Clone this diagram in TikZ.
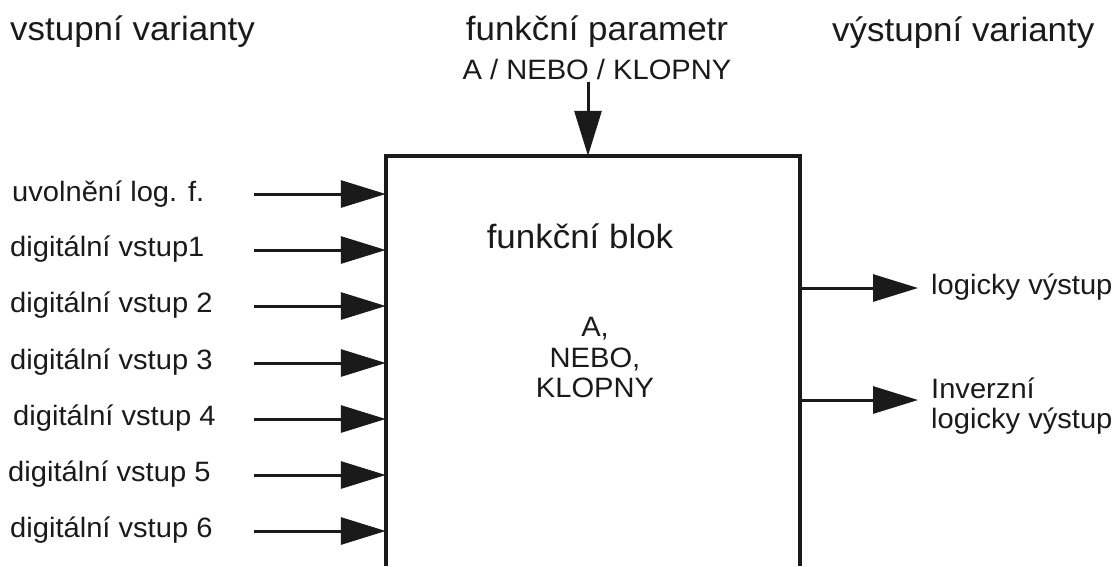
\documentclass[tikz,border=0pt]{standalone}
\usepackage{fontspec}
\setmainfont{Liberation Sans}[FakeStretch=1.04]
\usetikzlibrary{arrows.meta}
\definecolor{ink}{HTML}{1A1A1A}
\begin{document}
\begin{tikzpicture}[x=1pt,y=-1pt,
  lbl/.style={font=\fontsize{28}{30.5}\selectfont, text=ink, inner sep=0pt},
  hdr/.style={font=\fontsize{33.6}{38}\selectfont, text=ink, inner sep=0pt},
  conn/.style={draw=ink, line width=3pt, -{Triangle[length=45pt,width=27pt]}},
  box/.style={draw=ink, line width=3.5pt}]
\useasboundingbox (0,0) rectangle (1113,566);
\clip (0,0) rectangle (1113,566);

% headers
\node[hdr, anchor=base west] (hin) at (10,40) {vstupní varianty};
\node[hdr, anchor=base] (hpar) at (597,40) {funkční parametr};
\node[lbl, anchor=base] (par) at (597,79) {A / NEBO / KLOPNY};
\node[hdr, anchor=base west] (hout) at (832,41) {výstupní varianty};

% block
\node[minimum width=414pt, minimum height=410pt, inner sep=0pt] (blok) at (593,361) {};
\draw[box] (blok.south west) -- (blok.north west) -- (blok.north east) -- (blok.south east);
\node[hdr, anchor=base] (title) at (580,248) {funkční blok};
\node[lbl, align=center] (modes) at (595,357.5) {A,\\NEBO,\\KLOPNY};

% parameter arrow
\coordinate (ptop) at (588,82);
\draw[conn] (ptop) -- (ptop |- blok.north);

% inputs
\node[lbl, anchor=base west] (l1) at (12,201) {uvolnění log. f.};
\node[lbl, anchor=base west] (l2) at (10,256) {digitální vstup1};
\node[lbl, anchor=base west] (l3) at (10,312) {digitální vstup 2};
\node[lbl, anchor=base west] (l4) at (10,369) {digitální vstup 3};
\node[lbl, anchor=base west] (l5) at (13,425) {digitální vstup 4};
\node[lbl, anchor=base west] (l6) at (8,481) {digitální vstup 5};
\node[lbl, anchor=base west] (l7) at (10,537) {digitální vstup 6};

\coordinate (s1) at (254,194);
\coordinate (s2) at (254,250);
\coordinate (s3) at (254,306);
\coordinate (s4) at (254,363);
\coordinate (s5) at (254,419);
\coordinate (s6) at (254,475);
\coordinate (s7) at (254,531);
\foreach \i in {1,...,7} {\draw[conn] (s\i) -- (s\i -| blok.west);}

% outputs
\coordinate (o1) at (918,288);
\coordinate (o2) at (918,400);
\draw[conn] (o1 -| blok.east) -- (o1);
\draw[conn] (o2 -| blok.east) -- (o2);
\node[lbl, anchor=base west] (r1) at (931,294) {logicky výstup};
\node[lbl, anchor=west, align=left] (r2) at (931,406) {Inverzní\\logicky výstup};
\end{tikzpicture}
\end{document}
